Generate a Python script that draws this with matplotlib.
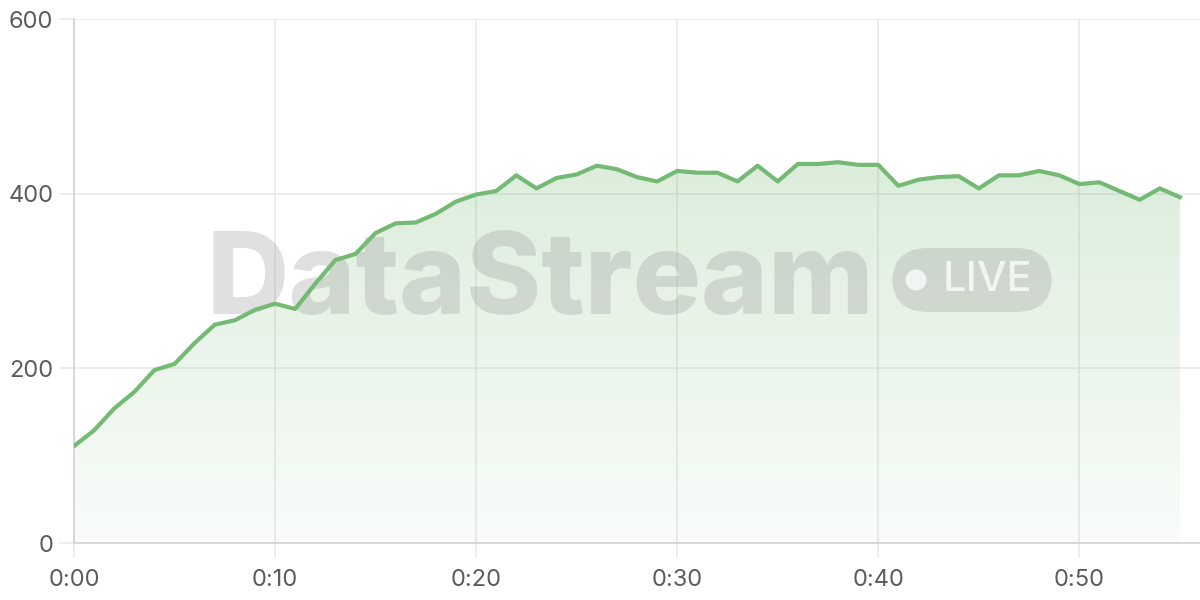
import numpy as np
import matplotlib
matplotlib.use('Agg')
import matplotlib.pyplot as plt
from matplotlib.patches import FancyBboxPatch, Ellipse
from matplotlib.colors import LinearSegmentedColormap

plt.rcParams['font.family'] = ['Inter', 'DejaVu Sans']

# one reading per minute, 0:00 .. 0:55
minutes = list(range(56))
values = [111, 129, 154, 173, 198, 205, 229, 250, 255, 267,
          274, 268, 297, 324, 331, 355, 366, 367, 377, 391,
          399, 403, 421, 406, 418, 422, 432, 428, 419, 414,
          426, 424, 424, 414, 432, 414, 434, 434, 436, 433,
          433, 409, 416, 419, 420, 406, 421, 421, 426, 421,
          411, 413, 403, 393, 406, 396]
xtick_pos = [0, 10, 20, 30, 40, 50]
xtick_labels = ['0:00', '0:10', '0:20', '0:30', '0:40', '0:50']
ytick_pos = [0, 200, 400, 600]

line_color = '#74b974'
grid_color = '#e8e8e8'
spine_color = '#d2d2d2'
text_color = '#5c5c5c'

fig = plt.figure(figsize=(12, 6), dpi=100)
ax = fig.add_axes([74/1200, 57/600, 1126/1200, 524/600])
ax.set_xlim(0, 56)
ax.set_ylim(0, 600)

# gradient area under the line
x = np.array(minutes)
y = np.array(values)
poly = ax.fill_between(x, 0, y, color='none', lw=0)
cmap = LinearSegmentedColormap.from_list('g', [(0.45, 0.72, 0.45, 0.04), (0.45, 0.72, 0.45, 0.25)])
grad = np.linspace(0, 1, 256).reshape(-1, 1)
img = ax.imshow(grad, cmap=cmap, aspect='auto', origin='lower',
                extent=[0, 55, 0, max(values)], zorder=1)
img.set_clip_path(poly.get_paths()[0], transform=ax.transData)

ax.plot(x, y, color=line_color, lw=3, zorder=3, solid_joinstyle='round')

# grid + axes styling
ax.set_xticks(xtick_pos)
ax.set_xticklabels(xtick_labels)
ax.set_yticks(ytick_pos)
ax.grid(True, color=grid_color, lw=1.1, zorder=0)
ax.set_axisbelow(True)
for s in ['top', 'right']:
    ax.spines[s].set_visible(False)
for s in ['left', 'bottom']:
    ax.spines[s].set_color(spine_color)
    ax.spines[s].set_linewidth(1.2)
ax.tick_params(axis='both', colors=grid_color, length=11, width=1.1,
               labelcolor=text_color, labelsize=17)
ax.tick_params(axis='y', pad=4)
ax.tick_params(axis='x', pad=8)

# watermark
ax.text(0.4505, 0.527, 'DataStream', transform=fig.transFigure, ha='center', va='center',
        fontsize=82, fontweight='heavy', color='#9a9a9a', alpha=0.3, zorder=2)
badge = FancyBboxPatch((892/1200, (600-312)/600), 160/1200, 64/600,
                       boxstyle='round,pad=0,rounding_size=0.03', transform=fig.transFigure,
                       facecolor='#9a9a9a', edgecolor='none', alpha=0.3, zorder=2,
                       mutation_aspect=2)
fig.patches.append(badge)
fig.patches.append(Ellipse((916/1200, 320/600), 21/1200, 21/600, transform=fig.transFigure,
                           facecolor='white', edgecolor='none', alpha=0.75, zorder=3))
fig.text(987/1200, 320/600, 'LIVE', ha='center', va='center', fontsize=30,
         fontweight='medium', color='white', alpha=0.75, zorder=3)

fig.savefig('out.png', dpi=100)
